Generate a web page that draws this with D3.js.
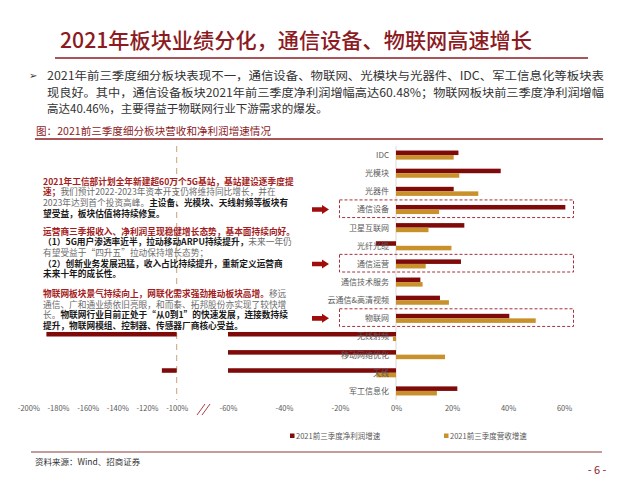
<!DOCTYPE html>
<html>
<head>
<meta charset="utf-8">
<script src="https://cdn.jsdelivr.net/npm/d3@7"></script>
<style>
  body { margin: 0; background: #fff; }
  text { font-family: "Noto Sans CJK SC", "Liberation Sans", sans-serif; }
</style>
</head>
<body>
<div id="container"></div>
<script>
/* CONSTANTS AND GLOBALS */
const width = 640,
  height = 480;

const darkRed = "#8c1b1f",
  profitColor = "#7f0a0a",
  revenueColor = "#c8912c",
  grey = "#595959";

/* DATA */
const categories = ["IDC", "光模块", "光器件", "通信设备", "卫星互联网", "光纤光缆", "通信运营",
  "通信技术服务", "云通信&高清视频", "物联网", "无线射频", "移动网络优化", "天线", "军工信息化"];
// 2021前三季度净利润增速 (%)
const profitGrowth = [22.3, 37.4, 20.6, 60.48, 24.4, -7.2, 23.2, 8.7, 15.7, 40.46, -187.8, -80, -110, 21.9];
// 2021前三季度营收增速 (%)
const revenueGrowth = [20.6, 22.6, 29.4, 15.4, 11.6, 19.8, 10.6, 9.5, 18.9, 49.9, -1.1, 17.5, -7.0, 14.6];
const seriesNames = ["2021前三季度净利润增速", "2021前三季度营收增速"];
const mainTicks = [-60, -40, -20, 0, 20, 40, 60];
const breakTicks = [-200, -180, -160, -140, -120, -100];
const highlighted = ["通信设备", "通信运营", "物联网"];

const titleText = "2021年板块业绩分化，通信设备、物联网高速增长";
const bulletLines = [
  "2021年前三季度细分板块表现不一，通信设备、物联网、光模块与光器件、IDC、军工信息化等板块表",
  "现良好。其中，通信设备板块2021年前三季度净利润增幅高达60.48%；物联网板块前三季度净利润增幅",
  "高达40.46%，主要得益于物联网行业下游需求的爆发。"
];
const captionText = "图：2021前三季度细分板块营收和净利润增速情况";
const sourceText = "资料来源：Wind、招商证券";

// annotation blocks: each line is a list of [style, text]  (r = red bold, g = grey, b = black bold)
const notes = [
  [
    [["r", "2021年工信部计划全年新建超60万个5G基站，基站建设逐季度提"]],
    [["r", "速；"], ["g", "我们预计2022-2023年资本开支仍将维持同比增长，并在"]],
    [["g", "2023年达到首个投资高峰。"], ["b", "主设备、光模块、天线射频等板块有"]],
    [["b", "望受益，板块估值将持续修复。"]]
  ],
  [
    [["r", "运营商三季报收入、净利润呈现稳健增长态势，基本面持续向好。"]],
    [["b", "（1）5G用户渗透率近半，拉动移动ARPU持续提升，"], ["g", "未来一年仍"]],
    [["g", "有望受益于“四升五”拉动保持增长态势；"]],
    [["b", "（2）创新业务发展迅猛，收入占比持续提升，重新定义运营商"]],
    [["b", "未来十年的成长性。"]]
  ],
  [
    [["r", "物联网板块景气持续向上，网联化需求强劲推动板块高增。"], ["g", "移远"]],
    [["g", "通信、广和通业绩依旧亮眼，和而泰、拓邦股份亦实现了较快增"]],
    [["g", "长。"], ["b", "物联网行业目前正处于“从0到1”的快速发展，连接数持续"]],
    [["b", "提升，物联网模组、控制器、传感器厂商核心受益。"]]
  ]
];

const data = categories.map((c, i) => ({ cat: c, profit: profitGrowth[i], revenue: revenueGrowth[i] }));

/* SVG */
const svg = d3.select("#container").append("svg")
  .attr("width", width)
  .attr("height", height);

// title
svg.append("text")
  .attr("x", 60).attr("y", 48)
  .attr("fill", darkRed)
  .attr("font-size", 21)
  .attr("font-weight", 500)
  .attr("textLength", 472)
  .attr("lengthAdjust", "spacingAndGlyphs")
  .text(titleText);
svg.append("line")
  .attr("x1", 55).attr("x2", 588).attr("y1", 58).attr("y2", 58)
  .attr("stroke", darkRed).attr("stroke-width", 1.5);

// bullet paragraph
svg.append("text")
  .attr("x", 29).attr("y", 79)
  .attr("font-size", 10).attr("fill", "#333")
  .text("➢");
svg.selectAll("text.bullet")
  .data(bulletLines)
  .join("text")
  .attr("class", "bullet")
  .attr("x", 47)
  .attr("y", (d, i) => 80 + i * 16.5)
  .attr("font-size", 11.5)
  .attr("fill", "#333")
  .attr("textLength", (d, i) => i < bulletLines.length - 1 ? 557 : null)
  .attr("lengthAdjust", "spacingAndGlyphs")
  .text(d => d);

// caption
svg.append("text")
  .attr("x", 36).attr("y", 135)
  .attr("font-size", 10.5)
  .attr("fill", darkRed)
  .attr("textLength", 235)
  .attr("lengthAdjust", "spacingAndGlyphs")
  .text(captionText);
svg.append("line")
  .attr("x1", 35).attr("x2", 603).attr("y1", 139).attr("y2", 139)
  .attr("stroke", darkRed).attr("stroke-width", 1.3);

/* SCALES */
const y = d3.scaleBand()
  .domain(categories)
  .range([146, 400]);

const ySub = d3.scaleBand()
  .domain(["profit", "revenue"])
  .range([0, y.bandwidth()])
  .paddingOuter(1);

const x = d3.scaleLinear()
  .domain([-60, 60])
  .range([228, 564]);

// left part of the broken axis
const xBreak = d3.scaleLinear()
  .domain([-200, -100])
  .range([28.3, 176.7]);

// guide lines
svg.append("line")
  .attr("x1", x(0)).attr("x2", x(0))
  .attr("y1", y.range()[0]).attr("y2", y.range()[1])
  .attr("stroke", "#d9d9d9");
svg.append("line")
  .attr("x1", xBreak(-100)).attr("x2", xBreak(-100))
  .attr("y1", y.range()[0]).attr("y2", y.range()[1])
  .attr("stroke", "#c9a27a")
  .attr("stroke-dasharray", "6,5");

// + BARS (main part, clipped at -60%)
const rows = svg.append("g").selectAll("g")
  .data(data)
  .join("g")
  .attr("transform", d => `translate(0,${y(d.cat)})`);

rows.append("rect")
  .attr("x", d => x(Math.max(Math.min(d.profit, 0), -60)))
  .attr("y", ySub("profit"))
  .attr("width", d => Math.abs(x(Math.max(d.profit, -60)) - x(0)))
  .attr("height", ySub.bandwidth())
  .attr("fill", profitColor);

rows.append("rect")
  .attr("x", d => x(Math.max(Math.min(d.revenue, 0), -60)))
  .attr("y", ySub("revenue"))
  .attr("width", d => Math.abs(x(Math.max(d.revenue, -60)) - x(0)))
  .attr("height", ySub.bandwidth())
  .attr("fill", revenueColor);

// bars beyond -100% continue on the left part
rows.filter(d => d.profit < -100)
  .append("rect")
  .attr("x", d => xBreak(Math.max(d.profit, -200)))
  .attr("y", ySub("profit"))
  .attr("width", d => xBreak(-100) - xBreak(Math.max(d.profit, -200)))
  .attr("height", ySub.bandwidth())
  .attr("fill", profitColor);

// category labels
rows.append("text")
  .attr("x", 389)
  .attr("y", y.bandwidth() / 2 + 3)
  .attr("text-anchor", "end")
  .attr("font-size", d => d.cat === "IDC" ? 8 : 8)
  .attr("font-family", d => d.cat === "IDC" ? "Liberation Sans, sans-serif" : null)
  .attr("fill", grey)
  .text(d => d.cat);

// highlight boxes + arrows
const hi = data.filter(d => highlighted.includes(d.cat));
svg.selectAll("rect.hl")
  .data(hi)
  .join("rect")
  .attr("class", "hl")
  .attr("x", 339.5)
  .attr("y", d => y(d.cat) - 0.5)
  .attr("width", 234)
  .attr("height", y.bandwidth() - 0.5)
  .attr("fill", "none")
  .attr("stroke", "#a5303c")
  .attr("stroke-width", 1)
  .attr("stroke-dasharray", "3,2");

svg.selectAll("path.arrow")
  .data(hi)
  .join("path")
  .attr("class", "arrow")
  .attr("transform", d => `translate(312,${y(d.cat) + y.bandwidth() / 2})`)
  .attr("d", "M0,-2.3 L10,-2.3 L10,-4.5 L17,0 L10,4.5 L10,2.3 L0,2.3 Z")
  .attr("fill", "#a00d0d");

// + AXES
const axisMain = svg.append("g")
  .attr("transform", "translate(0,403)")
  .call(d3.axisBottom(x).tickValues(mainTicks).tickFormat(d => d + "%").tickSize(0));
const axisLeft = svg.append("g")
  .attr("transform", "translate(0,403)")
  .call(d3.axisBottom(xBreak).tickValues(breakTicks).tickFormat(d => d + "%").tickSize(0));
[axisMain, axisLeft].forEach(g => {
  g.select(".domain").remove();
  g.selectAll("text")
    .attr("font-family", "Liberation Sans, sans-serif")
    .attr("font-size", 7.5)
    .attr("fill", grey);
});

// break mark
svg.append("g")
  .selectAll("line")
  .data([0, 5])
  .join("line")
  .attr("x1", d => 197 + d).attr("x2", d => 205 + d)
  .attr("y1", 415).attr("y2", 404)
  .attr("stroke", "#9c2a3a").attr("stroke-width", 0.9);

// annotation text
const styleFill = { r: "#a31d22", g: "#6b6b6b", b: "#1a1a1a" };
const lineStarts = [181.7, 231.7, 294];
notes.forEach((block, bi) => {
  block.forEach((line, li) => {
    const t = svg.append("text")
      .attr("x", 43)
      .attr("y", lineStarts[bi] + li * 10.65 + 3)
      .attr("font-size", 8.7);
    line.forEach(([s, str]) => {
      t.append("tspan")
        .attr("fill", styleFill[s])
        .attr("font-weight", s === "g" ? 400 : 700)
        .text(str);
    });
  });
});

// + LEGEND
const legend = svg.append("g").selectAll("g")
  .data(seriesNames)
  .join("g")
  .attr("transform", (d, i) => `translate(${290 + i * 154},437)`);
legend.append("rect")
  .attr("x", 0).attr("y", -3.5)
  .attr("width", 4.5).attr("height", 4.5)
  .attr("fill", (d, i) => i === 0 ? profitColor : revenueColor);
legend.append("text")
  .attr("x", 6).attr("y", 1.5)
  .attr("font-size", 7.5)
  .attr("fill", grey)
  .text(d => d);

// footer
svg.append("line")
  .attr("x1", 31).attr("x2", 602).attr("y1", 452).attr("y2", 452)
  .attr("stroke", "#8c3a3a").attr("stroke-width", 1.2);
svg.append("text")
  .attr("x", 35).attr("y", 465)
  .attr("font-size", 8.5).attr("fill", "#333")
  .text(sourceText);
svg.append("text")
  .attr("x", 597).attr("y", 474)
  .attr("text-anchor", "middle")
  .attr("font-size", 11).attr("fill", darkRed)
  .text("- 6 -");
</script>
</body>
</html>
